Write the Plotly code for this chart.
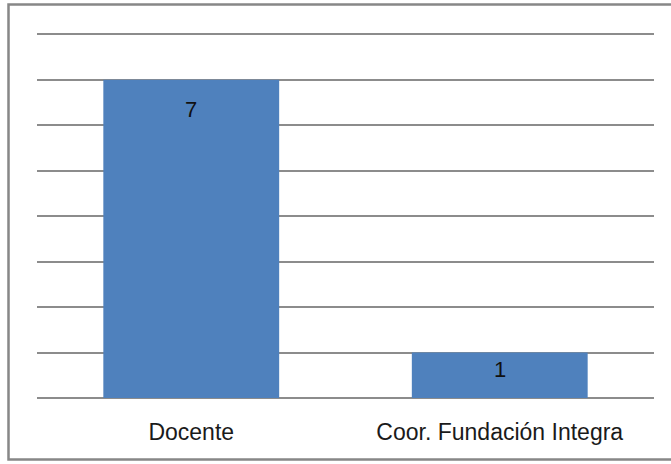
import plotly.graph_objects as go

categories = ["Docente", "Coor. Fundación Integra"]
counts = [7, 1]

BAR = "#4F81BD"
GRID = "#8C8C8C"
FONT = "Liberation Sans"

fig = go.Figure(
    go.Bar(
        x=categories,
        y=counts,
        marker={"color": BAR, "line": {"width": 0}},
        width=0.57,
        hoverinfo="x+y",
    )
)

# value labels sit inside the bars, near their tops
label_shift = [-30, -17]
for cat, value, shift in zip(categories, counts, label_shift):
    fig.add_annotation(
        x=cat,
        y=value,
        yshift=shift,
        text=str(value),
        showarrow=False,
        font={"family": FONT, "size": 22, "color": "#111111"},
    )

# outer chart border (right edge falls outside the crop)
fig.add_shape(
    type="rect",
    xref="paper",
    yref="paper",
    x0=(8.5 - 37) / 617,
    x1=(690 - 37) / 617,
    y0=(398 - 459.5) / 366,
    y1=(398 - 4.5) / 366,
    line={"color": "#878787", "width": 2.5},
    fillcolor="rgba(0,0,0,0)",
    layer="below",
)

fig.update_xaxes(
    showgrid=False,
    showline=False,
    ticks="",
    tickfont={"family": FONT, "size": 23, "color": "#1a1a1a"},
    ticklabelstandoff=18,
)
fig.update_yaxes(
    range=[0, 8.05],
    dtick=1,
    showticklabels=False,
    showgrid=True,
    gridcolor=GRID,
    gridwidth=1.5,
    zeroline=True,
    zerolinecolor=GRID,
    zerolinewidth=1.5,
    showline=False,
    ticks="",
)
fig.update_layout(
    width=671,
    height=464,
    margin={"l": 37, "r": 17, "t": 32, "b": 66},
    paper_bgcolor="white",
    plot_bgcolor="white",
    showlegend=False,
    bargap=0.43,
)

fig.write_html(
    "out.html",
    config={"displayModeBar": False},
    post_script="document.body.style.margin = '0';",
)
